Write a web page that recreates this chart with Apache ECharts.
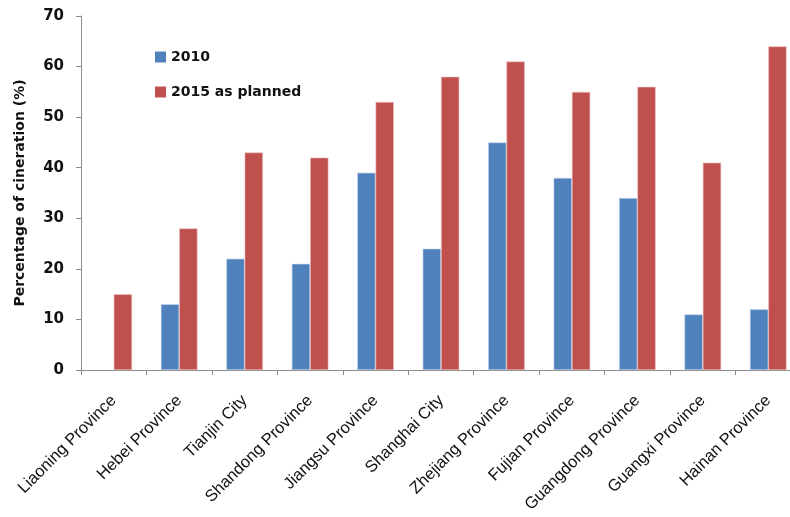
<!DOCTYPE html>
<html><head><meta charset="utf-8">
<script src="https://cdn.jsdelivr.net/npm/echarts@6/dist/echarts.min.js"></script>
<style>html,body{margin:0;padding:0;background:#fff;overflow:hidden;width:790px;height:517px}#c{width:802px;height:517px}</style>
</head><body><div id="c"></div>
<script>
const categories = ["Liaoning Province","Hebei Province","Tianjin City","Shandong Province","Jiangsu Province","Shanghai City","Zhejiang Province","Fujian Province","Guangdong Province","Guangxi Province","Hainan Province"];
const values2010 = [null,13,22,21,39,24,45,38,34,11,12];
const values2015 = [15,28,43,42,53,58,61,55,56,41,64];
const seriesNames = ["2010","2015 as planned"];
const yTicks = {min:0,max:70,interval:10};

const chart = echarts.init(document.getElementById('c'));
chart.setOption({
  animation:false,
  grid:{left:81,top:16,right:1,bottom:147},
  legend:{orient:'vertical',left:150,top:45,itemWidth:11,itemHeight:11,itemGap:21,
    icon:'rect',itemStyle:{borderWidth:0},
    textStyle:{fontFamily:'DejaVu Sans',fontWeight:'bold',fontSize:14,color:'#111'},
    data:seriesNames},
  xAxis:{type:'category',data:categories,
    axisLine:{lineStyle:{color:'#8c8c8c',width:1}},
    axisTick:{show:true,length:5,lineStyle:{color:'#8c8c8c'}},
    axisLabel:{rotate:45,interval:0,margin:28,fontFamily:'Liberation Sans',fontSize:16.5,color:'#111'}},
  yAxis:{type:'value',min:yTicks.min,max:yTicks.max,interval:yTicks.interval,
    name:'Percentage of cineration (%)',nameLocation:'middle',nameGap:54,
    nameTextStyle:{fontFamily:'DejaVu Sans',fontWeight:'bold',fontSize:14,color:'#111'},
    axisLine:{show:true,lineStyle:{color:'#8c8c8c'}},
    axisTick:{show:true,length:5,lineStyle:{color:'#8c8c8c'}},
    splitLine:{show:false},
    axisLabel:{fontFamily:'DejaVu Sans',fontWeight:'bold',fontSize:15,color:'#111',margin:17}},
  series:[
    {name:seriesNames[0],type:'bar',data:values2010,barGap:'0%',barCategoryGap:'44%',
     itemStyle:{color:'#4F81BD',borderColor:'#c9d7ea',borderWidth:0.6}},
    {name:seriesNames[1],type:'bar',data:values2015,barGap:'0%',barCategoryGap:'44%',
     itemStyle:{color:'#C0504D',borderColor:'#ecc4c3',borderWidth:0.6}}
  ]
});
</script></body></html>
